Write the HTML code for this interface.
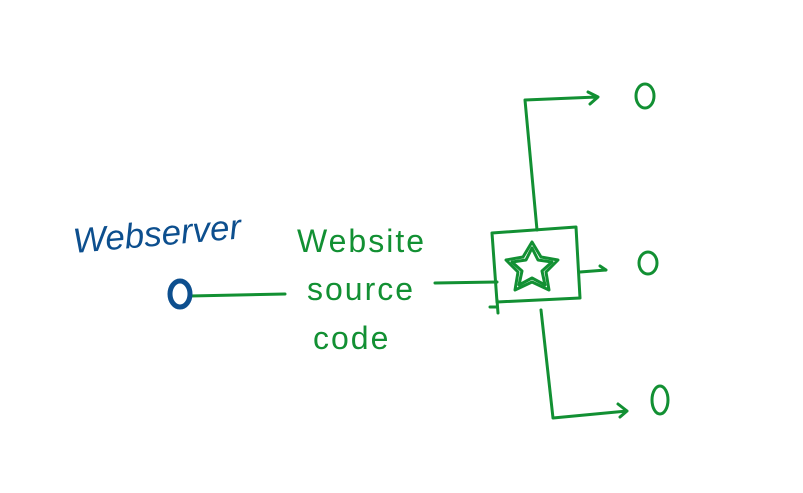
<!DOCTYPE html>
<html><head><style>body{margin:0;background:#fff}svg{display:block}</style></head><body>
<svg width="803" height="493" viewBox="0 0 803 493" xmlns="http://www.w3.org/2000/svg">
<g fill="none" stroke="#129033" stroke-width="3" stroke-linecap="round" stroke-linejoin="round">
<path d="M435 283 L497 282"/>
<path d="M492 233 L576 227 L580 298 L497 302 L492 233"/>
<path d="M490 307 L497 307 M497 300 L498 313"/>
<path d="M537 230 L525 100 L597 97 M588 92 L598 97 L590 104"/>
<path d="M541 310 L553 418 L627 411 M618 404 L627 411 L620 417"/>
<path d="M580 272 L606 270 M600 266 L606 270"/>
<path d="M532 248 L538 260 L552 262 L542 271 L545 285 L532 278 L519 285 L522 271 L512 262 L526 260 Z"/>
<path d="M532 242 L541 257 L558 260 L546 272 L549 290 L532 282 L515 290 L518 272 L506 260 L523 257 Z"/>
<ellipse cx="645" cy="96" rx="9" ry="12"/>
<ellipse cx="648" cy="263" rx="9" ry="11"/>
<ellipse cx="660" cy="400" rx="8" ry="14"/>
<path d="M190 296 L285 294"/>
</g>
<ellipse cx="180" cy="294" rx="10" ry="13" fill="none" stroke="#0d4f8e" stroke-width="5"/>
<text x="74" y="253" font-family="Liberation Sans, sans-serif" font-size="35" fill="#0d4f8e" font-style="italic" transform="rotate(-5 74 253)">Webserver</text>
<g font-family="Liberation Sans, sans-serif" font-size="32" fill="#129033" letter-spacing="2">
<text x="297" y="252">Website</text>
<text x="307" y="300">source</text>
<text x="313" y="349">code</text>
</g>
</svg>
</body></html>
